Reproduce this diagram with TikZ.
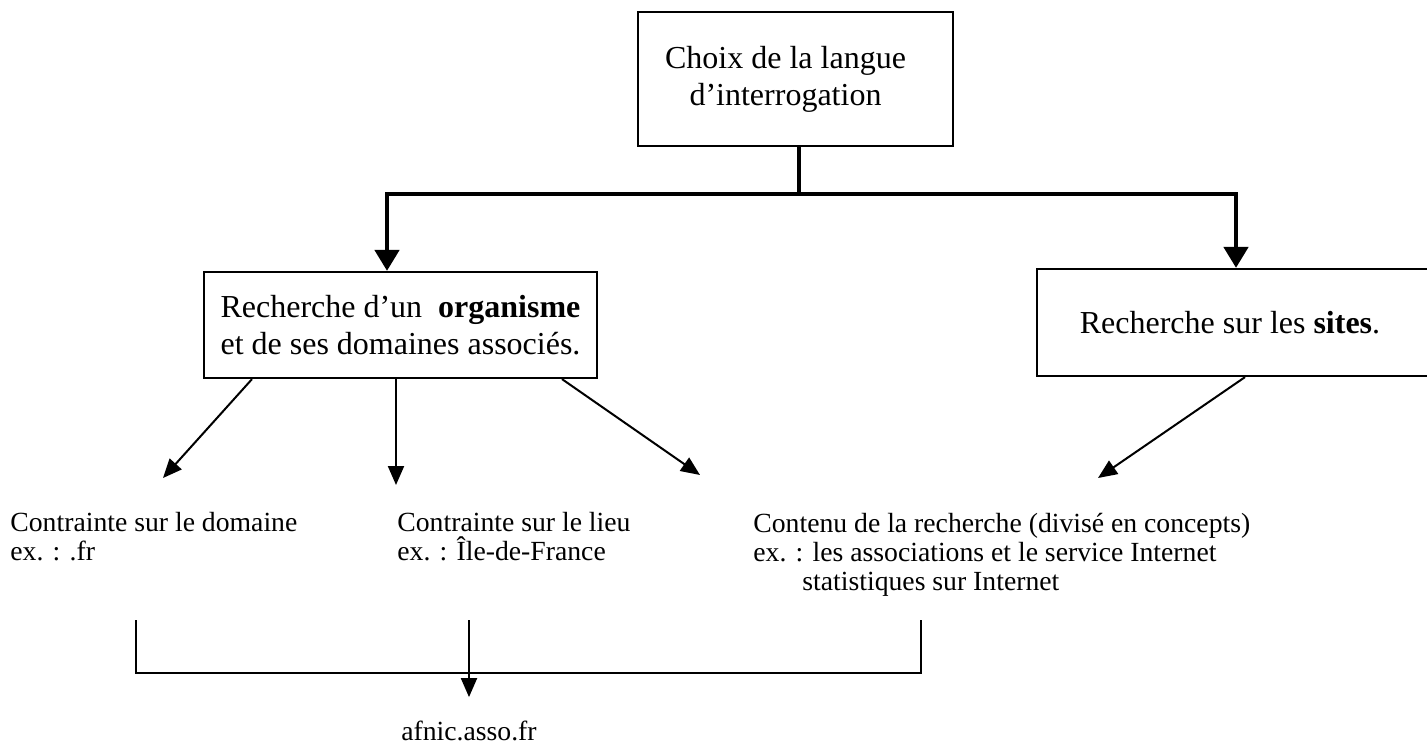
\documentclass[tikz,border=0pt]{standalone}
\usepackage{fontspec}
\setmainfont{Liberation Serif}
\usetikzlibrary{arrows.meta}
\begin{document}
\begin{tikzpicture}[x=0.5pt,y=-0.5pt,
  boxnode/.style={draw, line width=1.1pt, inner sep=0pt, align=center,
    font=\fontsize{16}{18.5}\selectfont},
  freetext/.style={inner sep=0pt, anchor=base west, align=left,
    font=\fontsize{13.85}{14.5}\selectfont},
  bigline/.style={line width=2.3pt},
  bigarrow/.style={bigline, -{Triangle[width=12pt,length=10.5pt]}},
  thinline/.style={line width=1pt},
  thinarrow/.style={thinline, -{Triangle[width=8pt,length=9.5pt]}}]
\useasboundingbox (0,0) rectangle (1427,744);
\clip (0,0) rectangle (1427,744);

% boxes
\node[boxnode, minimum width=157.5pt, minimum height=67pt] (langue) at (795.5,79)
  {Choix de la langue\hspace*{10pt}\\d’interrogation\hspace*{10pt}};
\node[boxnode, align=left, minimum width=196.5pt, minimum height=53pt] (orga) at (400.5,325)
  {Recherche d’un\ \ \textbf{organisme}\\et de ses domaines associés.};
\node[boxnode, minimum width=204pt, minimum height=53.5pt] (sites) at (1241,322.5)
  {Recherche sur les \textbf{sites}.\hspace*{11pt}};

% first split
\coordinate (j) at (799,194);
\draw[bigline] (langue.south -| j) -- (j);
\draw[bigarrow] (j) -| ([xshift=-6.75pt]orga.north);
\draw[bigarrow] (j) -| ([xshift=-2.5pt]sites.north);

% constraints (anchored on the baseline of their last line)
\node[freetext] (domaine) at (10,560) {Contrainte sur le domaine\\ex. : .fr};
\node[freetext] (lieu) at (397,560) {Contrainte sur le lieu\\ex. : Île-de-France};
\node[freetext] (contenu) at (753,590)
  {Contenu de la recherche (divisé en concepts)\\ex. : les associations et le service Internet\\\hspace*{24.5pt}statistiques sur Internet};

\coordinate (domtip) at (163,478);
\coordinate (lieutip) at (396,485);
\coordinate (conttip) at (700,475);
\coordinate (sitetip) at (1098,478);
\draw[thinarrow] ([xshift=-74.25pt]orga.south) -- (domtip);
\draw[thinarrow] ([xshift=-2.25pt]orga.south) -- (lieutip);
\draw[thinarrow] ([xshift=80.75pt]orga.south) -- (conttip);
\draw[thinarrow] ([xshift=2pt]sites.south) -- (sitetip);

% result
\node[inner sep=0pt, anchor=base, font=\fontsize{13.85}{14.5}\selectfont] (afnic) at (469,740) {afnic.asso.fr};
\coordinate (bl) at (136,620);
\coordinate (br) at (921,620);
\coordinate (bm) at (469,620);
\draw[thinline] (bl) -- ++(0,53) -| (br);
\draw[thinarrow] (bm) -- ([yshift=11.5pt]afnic.north);
\end{tikzpicture}
\end{document}
